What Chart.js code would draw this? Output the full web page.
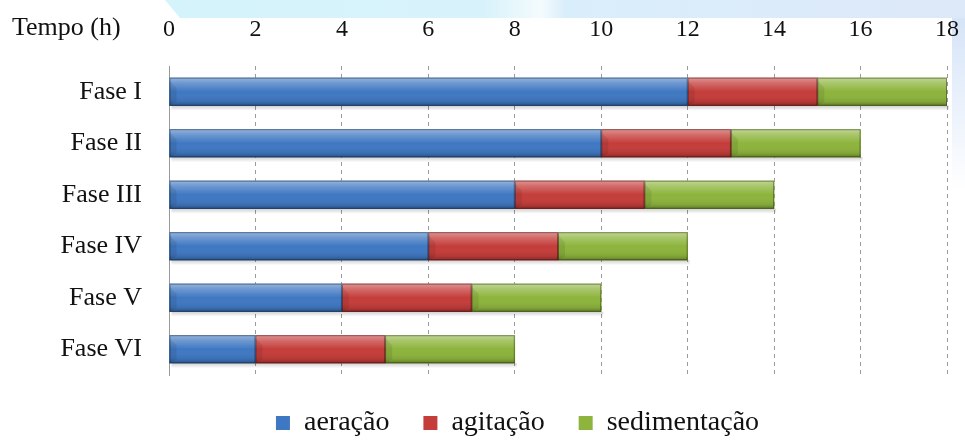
<!DOCTYPE html>
<html>
<head>
<meta charset="utf-8">
<script src="https://cdn.jsdelivr.net/npm/chart.js@4"></script>
<style>
  html, body { margin: 0; padding: 0; background: #fff; }
  #wrap { width: 965px; height: 448px; }
</style>
</head>
<body>
<div id="wrap"><canvas id="barChart"></canvas></div>
<script>
const fases = ['Fase I', 'Fase II', 'Fase III', 'Fase IV', 'Fase V', 'Fase VI'];
const aeracao = [12, 10, 8, 6, 4, 2];
const agitacao = [3, 3, 3, 3, 3, 3];
const sedimentacao = [3, 3, 3, 3, 3, 3];
const tempoTicks = [0, 2, 4, 6, 8, 10, 12, 14, 16, 18];

const serif = "'Liberation Serif', 'DejaVu Serif', serif";
Chart.defaults.font.family = serif;

// faint watermark shapes behind the chart
const backdrop = {
    id: 'backdrop',
    beforeDraw(chart) {
        const ctx = chart.ctx;
        ctx.save();
        ctx.fillStyle = '#fff';
        ctx.fillRect(0, 0, chart.width, chart.height);
        const g = ctx.createLinearGradient(165, 0, 965, 0);
        g.addColorStop(0, '#d4f3fb');
        g.addColorStop(0.4, '#d8f2fb');
        g.addColorStop(0.47, '#f4fbfd');
        g.addColorStop(0.5, '#d9eefb');
        g.addColorStop(1, '#dde8f8');
        ctx.fillStyle = g;
        ctx.beginPath();
        ctx.moveTo(165, 0);
        ctx.lineTo(965, 0);
        ctx.lineTo(965, 18);
        ctx.lineTo(180, 18);
        ctx.closePath();
        ctx.fill();
        const r = ctx.createLinearGradient(0, 18, 0, 190);
        r.addColorStop(0, 'rgba(214,228,248,1)');
        r.addColorStop(1, 'rgba(214,228,248,0)');
        ctx.fillStyle = r;
        ctx.fillRect(952, 18, 13, 172);
        ctx.restore();
    },
    afterLayout(chart) {
        // the legend sits a little right of centre in the original
        chart.legend.left += 44;
        chart.legend.right += 44;
    }
};

// bevel / gloss on each bar, plus the axis caption
const bevel = {
    id: 'bevel',
    afterDatasetsDraw(chart) {
        const ctx = chart.ctx;
        ctx.save();
        chart.data.datasets.forEach((ds, i) => {
            const meta = chart.getDatasetMeta(i);
            meta.data.forEach(bar => {
                const x0 = Math.min(bar.x, bar.base), x1 = Math.max(bar.x, bar.base);
                const h = bar.height, top = bar.y - h / 2;
                const g = ctx.createLinearGradient(0, top, 0, top + h);
                g.addColorStop(0, 'rgba(255,255,255,0.45)');
                g.addColorStop(0.18, 'rgba(255,255,255,0.25)');
                g.addColorStop(0.5, 'rgba(255,255,255,0)');
                g.addColorStop(0.85, 'rgba(0,0,0,0.08)');
                g.addColorStop(1, 'rgba(0,0,0,0.3)');
                ctx.fillStyle = g;
                ctx.fillRect(x0, top, x1 - x0, h);
                // left bevel triangle
                ctx.fillStyle = 'rgba(0,0,0,0.08)';
                ctx.beginPath();
                ctx.moveTo(x0, top + 3);
                ctx.lineTo(x0 + 7, top + 10);
                ctx.lineTo(x0 + 7, top + h - 4);
                ctx.lineTo(x0, top + h);
                ctx.closePath();
                ctx.fill();
                // shadow under the bar
                const s = ctx.createLinearGradient(0, top + h, 0, top + h + 5);
                s.addColorStop(0, 'rgba(0,0,0,0.18)');
                s.addColorStop(1, 'rgba(0,0,0,0)');
                ctx.fillStyle = s;
                ctx.fillRect(x0 + 2, top + h, x1 - x0, 5);
                ctx.strokeStyle = 'rgba(0,0,0,0.35)';
                ctx.lineWidth = 1;
                ctx.strokeRect(x0 + 0.5, top + 0.5, x1 - x0 - 1, h - 1);
            });
        });
        ctx.fillStyle = '#111';
        ctx.font = '26px ' + serif;
        ctx.textAlign = 'left';
        ctx.textBaseline = 'middle';
        ctx.fillText('Tempo (h)', 12, 28);
        ctx.restore();
    }
};

document.addEventListener('DOMContentLoaded', function () {
    const ctx = document.getElementById('barChart').getContext('2d');

    new Chart(ctx, {
        type: 'bar',
        data: {
            labels: fases,
            datasets: [
                { label: 'aeração', data: aeracao, backgroundColor: '#3f78c2' },
                { label: 'agitação', data: agitacao, backgroundColor: '#c43d3a' },
                { label: 'sedimentação', data: sedimentacao, backgroundColor: '#8db43c' }
            ]
        },
        options: {
            indexAxis: 'y',
            responsive: true,
            maintainAspectRatio: false,
            animation: false,
            layout: { padding: { top: 0, right: 18, bottom: 1, left: 0 } },
            datasets: { bar: { barThickness: 28, borderWidth: 0 } },
            scales: {
                x: {
                    position: 'top',
                    stacked: true,
                    min: 0,
                    max: 18,
                    afterBuildTicks(scale) {
                        scale.ticks = tempoTicks.map(v => ({ value: v }));
                    },
                    afterFit(scale) {
                        scale.height = 66;
                        scale.paddingLeft = 0;
                        scale.paddingRight = 0;
                    },
                    ticks: {
                        color: '#111',
                        font: { family: serif, size: 24 },
                        padding: 22,
                        maxRotation: 0
                    },
                    grid: { color: '#9a9a9a', drawTicks: false, lineWidth: 1 },
                    border: { display: false, dash: [4, 4] }
                },
                y: {
                    stacked: true,
                    afterFit(scale) { scale.width = 169; },
                    ticks: {
                        color: '#111',
                        font: { family: serif, size: 26 },
                        padding: 19
                    },
                    grid: { display: false },
                    border: { display: true, color: '#9a9a9a', width: 1 }
                }
            },
            plugins: {
                legend: {
                    position: 'bottom',
                    labels: {
                        color: '#111',
                        font: { family: serif, size: 28 },
                        boxWidth: 14,
                        boxHeight: 14,
                        padding: 34
                    }
                },
                tooltip: { enabled: false }
            }
        },
        plugins: [backdrop, bevel]
    });
});
</script>
</body>
</html>
